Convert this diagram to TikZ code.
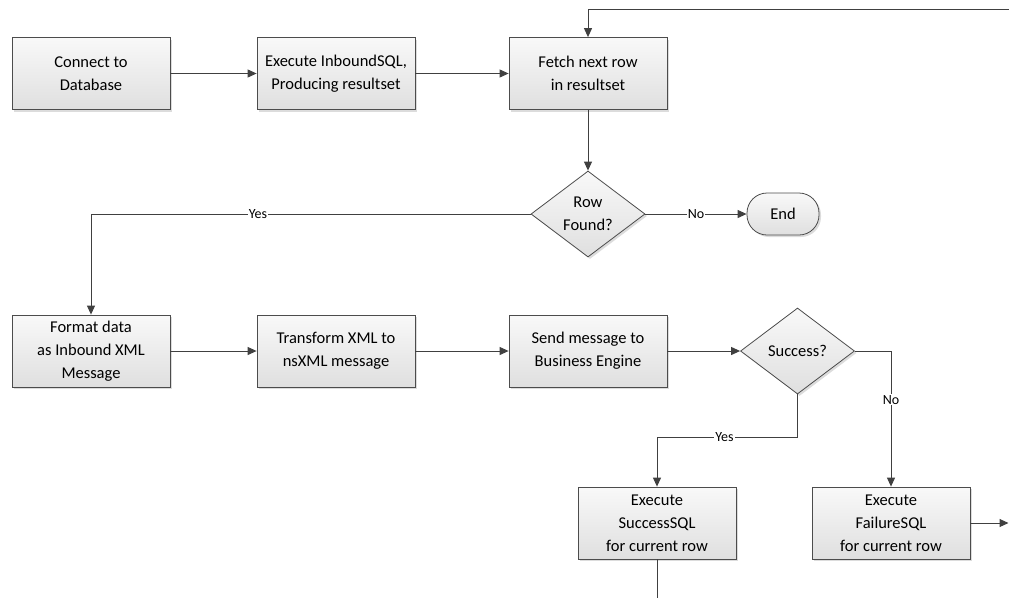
\documentclass[tikz,border=0pt]{standalone}
\usepackage{fontspec}
\setmainfont{Carlito}
\usetikzlibrary{shapes.geometric,shadows,arrows.meta}
\begin{document}
\begin{tikzpicture}[x=1pt,y=-1pt,
  proc/.style={draw=black!70, line width=0.8pt, top color=gray!5, bottom color=gray!25,
    minimum width=158pt, minimum height=72pt, align=center, inner sep=0pt,
    font=\fontsize{16.5}{23}\selectfont,
    drop shadow={shadow xshift=2pt, shadow yshift=-2pt, fill=gray!55}},
  decision/.style={diamond, draw=black!70, line width=0.8pt, top color=gray!5, bottom color=gray!25,
    minimum width=114pt, minimum height=86pt, align=center, inner sep=0pt,
    font=\fontsize{16.5}{23}\selectfont,
    drop shadow={shadow xshift=2pt, shadow yshift=-2pt, fill=gray!55}},
  term/.style={draw=black!70, line width=0.8pt, top color=gray!5, bottom color=gray!25,
    rounded corners=20pt, minimum width=72pt, minimum height=42pt, inner sep=0pt,
    font=\fontsize{16.5}{23}\selectfont,
    drop shadow={shadow xshift=2pt, shadow yshift=-2pt, fill=gray!55}},
  conn/.style={draw=black!75, line width=1pt},
  arr/.style={conn, -{Triangle[length=9pt,width=8pt]}},
  lbl/.style={fill=white, inner sep=1pt, font=\fontsize{14}{16}\selectfont}]
\useasboundingbox (0,0) rectangle (1009,598);
\node[proc] (c1) at (91,73.5) {Connect to\\Database};
\node[proc] (c2) at (336,73.5) {Execute InboundSQL,\\Producing resultset};
\node[proc] (fetch) at (588,73.5) {Fetch next row\\in resultset};
\node[decision] (row) at (588,214) {Row\\Found?};
\node[term] (end) at (783,214) {End};
\node[proc] (fmt) at (91,351) {Format data\\as Inbound XML\\Message};
\node[proc] (trans) at (336,351) {Transform XML to\\nsXML message};
\node[proc] (send) at (588,351) {Send message to\\Business Engine};
\node[decision] (succ) at (797.5,351) {Success?};
\node[proc] (ssql) at (657,523) {Execute\\SuccessSQL\\for current row};
\node[proc] (fail) at (891,523) {Execute\\FailureSQL\\for current row};
\coordinate (topin) at (1009,9);
\coordinate (yj) at (797.5,437);
\coordinate (bot) at (657,598);
\coordinate (rexit) at (1008.5,523);

\draw[arr] (c1) -- (c2);
\draw[arr] (c2) -- (fetch);
\draw[arr] (topin) -| (fetch);
\draw[arr] (fetch) -- (row);
\draw[arr] (row.east) -- node[lbl]{No} (end);
\draw[arr] (row.west) -| node[lbl, pos=0.31]{Yes} (fmt);
\draw[arr] (fmt) -- (trans);
\draw[arr] (trans) -- (send);
\draw[arr] (send) -- (succ);
\draw[arr] (succ.east) -| node[lbl, pos=0.68]{No} (fail);
\draw[arr] (succ.south) -- (yj) -| node[lbl, pos=0.26]{Yes} (ssql);
\draw[conn] (ssql) -- (bot);
\draw[arr] (fail) -- (rexit);
\end{tikzpicture}
\end{document}
